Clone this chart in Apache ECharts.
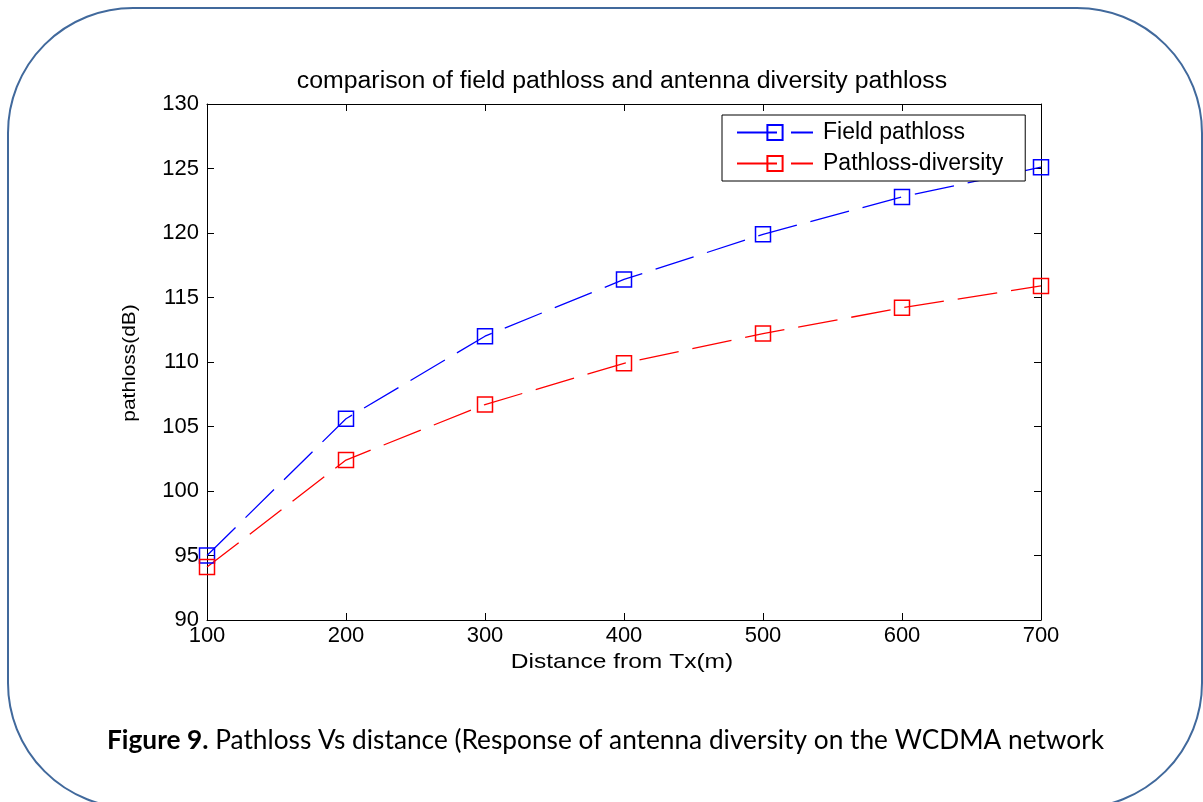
<!DOCTYPE html>
<html>
<head>
<meta charset="utf-8">
<script src="https://cdn.jsdelivr.net/npm/echarts@6/dist/echarts.min.js"></script>
<style>html,body{margin:0;padding:0;background:#fff;}#c{width:1203px;height:802px;}</style>
</head>
<body>
<div id="c"></div>
<script>
const distances = [100, 200, 300, 400, 500, 600, 700];
const fieldPathloss = [95.0, 105.6, 112.0, 116.4, 119.9, 122.8, 125.1];
const diversityPathloss = [94.1, 102.4, 106.7, 109.9, 112.2, 114.2, 115.9];
const seriesNames = ['Field pathloss', 'Pathloss-diversity'];
const titleText = 'comparison of field pathloss and antenna diversity pathloss';
const xName = 'Distance from Tx(m)';
const yName = 'pathloss(dB)';
const captionBold = 'Figure 9.';
const captionText = ' Pathloss Vs distance (Response of antenna diversity on the WCDMA network';

const chart = echarts.init(document.getElementById('c'), null, {renderer: 'canvas'});
const font = 'Liberation Sans, Arial, sans-serif';
const pairs = arr => distances.map((d, i) => [d, arr[i]]);
const tickStyle = {show: true, inside: true, length: 7, lineStyle: {color: '#000', width: 1}};
const mk = (name, data, color) => ({
  name: name, type: 'line', data: pairs(data),
  symbol: 'rect', symbolSize: 15,
  itemStyle: {color: 'rgba(0,0,0,0)', borderColor: color, borderWidth: 1.5},
  lineStyle: {color: color, width: 1.3, type: [40, 14]},
  emphasis: {disabled: true}, animation: false
});
chart.setOption({
  animation: false,
  backgroundColor: '#fff',
  grid: {left: 207, right: 162, top: 104, bottom: 182},
  legend: {
    orient: 'vertical', left: 722, top: 115,
    padding: [6, 22, 6, 14], itemGap: 8,
    itemWidth: 76, itemHeight: 19,
    borderColor: '#000', borderWidth: 1, backgroundColor: '#fff', borderRadius: 0,
    textStyle: {fontFamily: font, fontSize: 23, color: '#000', padding: [0, 0, 0, 5]},
    data: seriesNames
  },
  xAxis: [{
    type: 'value', min: 100, max: 700, interval: 100,
    axisLine: {lineStyle: {color: '#000', width: 1}},
    axisTick: tickStyle,
    axisLabel: {fontFamily: font, fontSize: 22, color: '#000', margin: 5},
    splitLine: {show: false}
  }, {
    type: 'value', min: 100, max: 700, interval: 100, position: 'top',
    axisLine: {show: true, lineStyle: {color: '#000', width: 1}},
    axisTick: tickStyle, axisLabel: {show: false}, splitLine: {show: false}
  }],
  yAxis: [{
    type: 'value', min: 90, max: 130, interval: 5,
    axisLine: {show: true, lineStyle: {color: '#000', width: 1}},
    axisTick: tickStyle,
    axisLabel: {fontFamily: font, fontSize: 22, color: '#000', margin: 8},
    splitLine: {show: false}
  }, {
    type: 'value', min: 90, max: 130, interval: 5, position: 'right',
    axisLine: {show: true, lineStyle: {color: '#000', width: 1}},
    axisTick: tickStyle, axisLabel: {show: false}, splitLine: {show: false}
  }],
  series: [
    mk(seriesNames[0], fieldPathloss, '#0000ff'),
    mk(seriesNames[1], diversityPathloss, '#ff0000')
  ],
  graphic: [{
    type: 'rect', silent: true, z: -1,
    shape: {x: 8, y: 8, width: 1194, height: 800, r: 125},
    style: {fill: 'none', stroke: '#41699c', lineWidth: 2}
  }, {
    type: 'text', x: 622, y: 82, scaleX: 1.08, silent: true,
    style: {text: titleText, fontFamily: font, fontSize: 23, fill: '#000',
      align: 'center', verticalAlign: 'middle'}
  }, {
    type: 'text', x: 622, y: 662, scaleX: 1.17, silent: true,
    style: {text: xName, fontFamily: font, fontSize: 21, fill: '#000',
      align: 'center', verticalAlign: 'middle'}
  }, {
    type: 'text', x: 130, y: 363, rotation: Math.PI / 2, scaleX: 1.1, silent: true,
    style: {text: yName, fontFamily: font, fontSize: 19, fill: '#000',
      align: 'center', verticalAlign: 'middle'}
  }, {
    type: 'text', x: 107, y: 741, scaleX: 1.01, silent: true,
    style: {
      text: '{b|' + captionBold + '}{n|' + captionText + '}',
      verticalAlign: 'middle',
      rich: {
        b: {fontFamily: 'Lato', fontWeight: 'bold', fontSize: 26, fill: '#000'},
        n: {fontFamily: 'Lato', fontSize: 26, fill: '#000'}
      }
    }
  }]
});
</script>
</body>
</html>
